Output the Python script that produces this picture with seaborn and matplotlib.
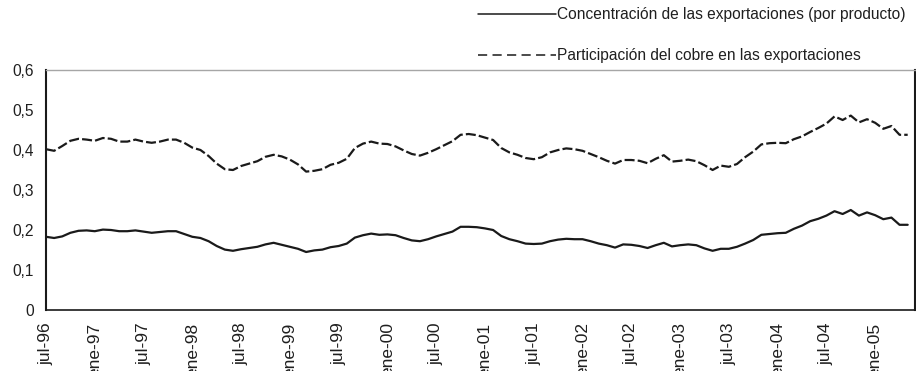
import numpy as np
import pandas as pd
import matplotlib
matplotlib.use("Agg")
import matplotlib.pyplot as plt
from matplotlib.lines import Line2D
import seaborn as sns

# ---- data (monthly, jul-96 .. may-05) ----
concentracion = [
    0.183, 0.180, 0.184, 0.193, 0.198, 0.199, 0.197, 0.201, 0.200, 0.197,
    0.197, 0.199, 0.196, 0.193, 0.195, 0.197, 0.197, 0.190, 0.183, 0.180,
    0.172, 0.160, 0.151, 0.148, 0.152, 0.155, 0.158, 0.164, 0.168, 0.163,
    0.158, 0.153, 0.145, 0.149, 0.151, 0.157, 0.160, 0.166, 0.181, 0.187,
    0.191, 0.188, 0.189, 0.187, 0.180, 0.174, 0.172, 0.177, 0.184, 0.190,
    0.196, 0.208, 0.208, 0.207, 0.204, 0.200, 0.185, 0.177, 0.172, 0.166,
    0.165, 0.166, 0.172, 0.176, 0.178, 0.177, 0.177, 0.172, 0.166, 0.162,
    0.156, 0.164, 0.163, 0.160, 0.155, 0.162, 0.168, 0.159, 0.162, 0.164,
    0.162, 0.154, 0.148, 0.153, 0.153, 0.158, 0.166, 0.175, 0.188, 0.190,
    0.192, 0.193, 0.203, 0.211, 0.222, 0.228, 0.236, 0.247, 0.240, 0.250,
    0.236, 0.244, 0.237, 0.227, 0.231, 0.213, 0.213,
]
cobre = [
    0.402, 0.398, 0.410, 0.423, 0.428, 0.426, 0.423, 0.430, 0.428, 0.421,
    0.421, 0.426, 0.421, 0.418, 0.421, 0.426, 0.426, 0.418, 0.406, 0.400,
    0.385, 0.366, 0.352, 0.350, 0.360, 0.366, 0.372, 0.383, 0.388, 0.384,
    0.376, 0.364, 0.346, 0.348, 0.352, 0.363, 0.368, 0.378, 0.405, 0.416,
    0.421, 0.416, 0.415, 0.409, 0.399, 0.390, 0.386, 0.393, 0.402, 0.412,
    0.422, 0.438, 0.440, 0.437, 0.431, 0.425, 0.405, 0.394, 0.388, 0.380,
    0.377, 0.382, 0.394, 0.400, 0.404, 0.402, 0.398, 0.390, 0.382, 0.373,
    0.366, 0.375, 0.375, 0.373, 0.367, 0.378, 0.387, 0.371, 0.373, 0.376,
    0.372, 0.362, 0.350, 0.361, 0.358, 0.365, 0.382, 0.396, 0.414, 0.417,
    0.418, 0.417, 0.427, 0.434, 0.445, 0.455, 0.466, 0.484, 0.475, 0.486,
    0.469, 0.477, 0.468, 0.453, 0.460, 0.438, 0.438,
]
tick_labels = ["jul-96", "ene-97", "jul-97", "ene-98", "jul-98", "ene-99",
               "jul-99", "ene-00", "jul-00", "ene-01", "jul-01", "ene-02",
               "jul-02", "ene-03", "jul-03", "ene-04", "jul-04", "ene-05"]
y_ticks = [0, 0.1, 0.2, 0.3, 0.4, 0.5, 0.6]
y_tick_labels = ["0", "0,1", "0,2", "0,3", "0,4", "0,5", "0,6"]
label_conc = "Concentración de las exportaciones (por producto)"
label_cobre = "Participación del cobre en las exportaciones"

months = np.arange(len(concentracion))
df = pd.DataFrame({"mes": months, "conc": concentracion, "cobre": cobre})

sns.set_style("white")
plt.rcParams["font.family"] = ["Liberation Sans", "DejaVu Sans"]
FS = 11.2
TXT = "#1f1f1f"

fig = plt.figure(figsize=(9.16, 3.71), dpi=100)
ax = fig.add_axes([46 / 916, 1 - 310 / 371, (915 - 46) / 916, 240 / 371])

sns.lineplot(data=df, x="mes", y="conc", ax=ax, color="#1a1a1a", lw=1.6)
sns.lineplot(data=df, x="mes", y="cobre", ax=ax, color="#1a1a1a", lw=1.6,
             linestyle=(0, (4.5, 1.4)))

ax.set_xlim(0, 106.9)
ax.set_ylim(0, 0.6)
ax.set_xlabel("")
ax.set_ylabel("")

ax.set_xticks(np.arange(0, 6 * len(tick_labels), 6))
ax.set_xticklabels(tick_labels, rotation=90, fontsize=12.5, color=TXT)
ax.set_yticks(y_ticks)
ax.set_yticklabels(y_tick_labels, fontsize=FS, color=TXT)
ax.tick_params(axis="both", direction="out", length=4, width=1.2,
               color="#222222", pad=5)

for side in ["left", "bottom", "right"]:
    ax.spines[side].set_color("#1a1a1a")
    ax.spines[side].set_linewidth(1.5)
ax.spines["bottom"].set_linewidth(1.2)
ax.spines["top"].set_color("#a6a6a6")
ax.spines["top"].set_linewidth(1.0)

handles = [Line2D([], [], color="#1a1a1a", lw=1.1),
           Line2D([], [], color="#1a1a1a", lw=1.1, linestyle=(0, (6, 3.5)))]
fig.legend(handles, [label_conc, label_cobre], loc="upper left",
           bbox_to_anchor=(478 / 916, 1 - 7 / 371), frameon=False,
           fontsize=FS, handlelength=5.0, handletextpad=0.1,
           labelspacing=1.69, borderpad=0, borderaxespad=0,
           labelcolor=TXT)

fig.savefig("out.png", dpi=100)
